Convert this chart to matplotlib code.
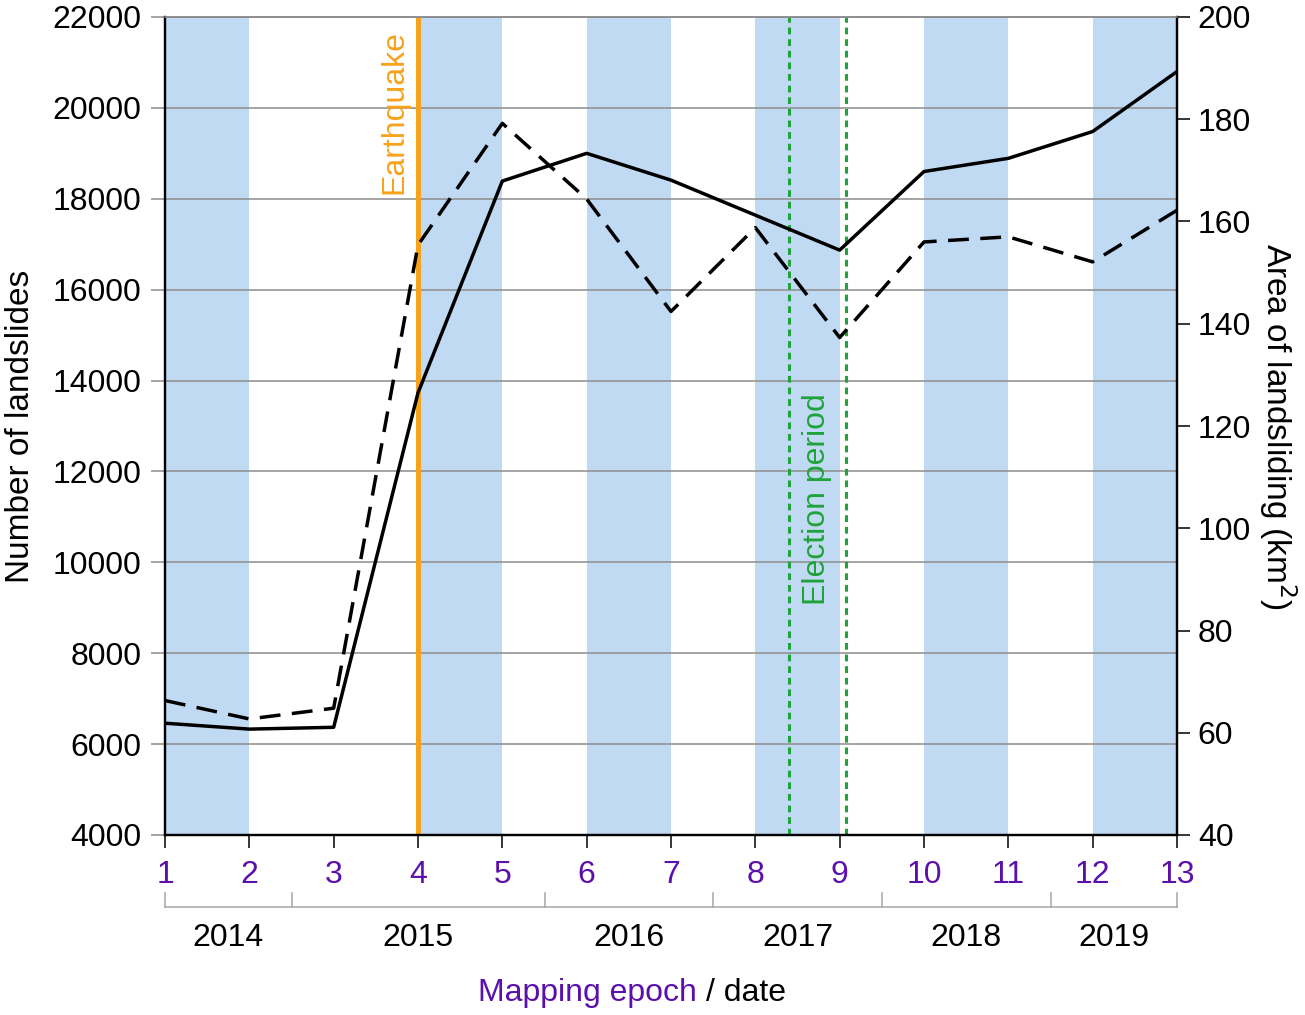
import numpy as np
import matplotlib
matplotlib.use("Agg")
from matplotlib import pyplot as plt, transforms as mtrans

plt.rcParams["font.family"] = ["Liberation Sans", "DejaVu Sans"]

epochs = np.arange(1, 14)
n_landslides = [6460, 6330, 6370, 13730, 18390, 19000, 18410, 17640, 16870, 18600, 18890, 19480, 20800]
area_km2 = [66.3, 62.7, 64.8, 155.4, 179.2, 164.4, 142.4, 158.8, 137.3, 156.0, 157.0, 152.1, 162.2]
bands = [(1, 2), (4, 5), (6, 7), (8, 9), (10, 11), (12, 13)]
earthquake = 4
election = (8.4, 9.08)
year_edges = [1, 2.5, 5.5, 7.5, 9.5, 11.5, 13]
years = ["2014", "2015", "2016", "2017", "2018", "2019"]

blue = "#c1daf3"
orange = "#f7a21b"
green = "#1fa33a"
purple = "#5b0fab"
grey = "#8c8c8c"
fs = 23

fig = plt.figure(figsize=(13.05, 10.15), dpi=100)
ax = fig.add_axes([165/1305, 1-835/1015, (1177-165)/1305, (835-17)/1015])
ax2 = ax.twinx()

for a, b in bands:
    ax.axvspan(a, b, color=blue, lw=0, zorder=0)
for y in range(6000, 22001, 2000):
    ax.axhline(y, color=grey, lw=1.1, zorder=1)

ax.axvline(earthquake, color=orange, lw=3.6, zorder=2)
for xe in election:
    ax.axvline(xe, color=green, lw=2.2, ls=(0, (2.2, 1.6)), zorder=2)

ax.plot(epochs, n_landslides, color="k", lw=2.5, zorder=3)
ax2.plot(epochs, area_km2, color="k", lw=2.5, ls=(0, (6.0, 3.3)))

ax.set_xlim(1, 13)
ax.set_ylim(4000, 22000)
ax2.set_ylim(40, 200)
ax.set_yticks(range(4000, 22001, 2000))
ax2.set_yticks(range(40, 201, 20))
ax.set_xticks(epochs)

ax.tick_params(axis="y", labelsize=fs, length=10, width=1.1, color=grey, pad=7)
ax.tick_params(axis="x", labelsize=fs, length=9, width=1.1, color="k", labelcolor=purple, pad=9)
ax2.tick_params(axis="y", labelsize=fs, length=9, width=1.1, color="k", pad=6)

for a in (ax, ax2):
    a.spines["top"].set_color(grey)
    a.spines["top"].set_linewidth(1.1)
    for s in ("left", "right", "bottom"):
        a.spines[s].set_linewidth(1.6)

ax.set_ylabel("Number of landslides", fontsize=24, labelpad=12)
ax2.set_ylabel("Area of landsliding (km$^2$)", fontsize=24, rotation=270, labelpad=34)

tr = mtrans.blended_transform_factory(ax.transData, ax.transAxes)
ax.text(3.72, 0.984, "Earthquake", transform=tr,
        rotation=90, color=orange, fontsize=fs, ha="center", va="top")
ax.text(8.73, 0.281, "Election period", transform=tr,
        rotation=90, color=green, fontsize=fs, ha="center", va="bottom", zorder=4)

# year brackets under the epoch axis
ax.plot([year_edges[0], year_edges[-1]], [-0.088, -0.088], color="#a6a6a6", lw=1.1, transform=tr, clip_on=False)
for xe in year_edges:
    ax.plot([xe, xe], [-0.088, -0.071], color="#a6a6a6", lw=1.1, transform=tr, clip_on=False)
for i, yr in enumerate(years):
    xc = (year_edges[i] + year_edges[i+1]) / 2
    ax.text(xc, -0.126, yr, transform=tr, fontsize=fs, ha="center", va="center")

fig.text(697/1305, 1-993/1015, "Mapping epoch", color=purple, fontsize=fs, ha="right", va="center")
fig.text(706/1305, 1-993/1015, "/ date", color="k", fontsize=fs, ha="left", va="center")

fig.savefig("out.png", dpi=100)
